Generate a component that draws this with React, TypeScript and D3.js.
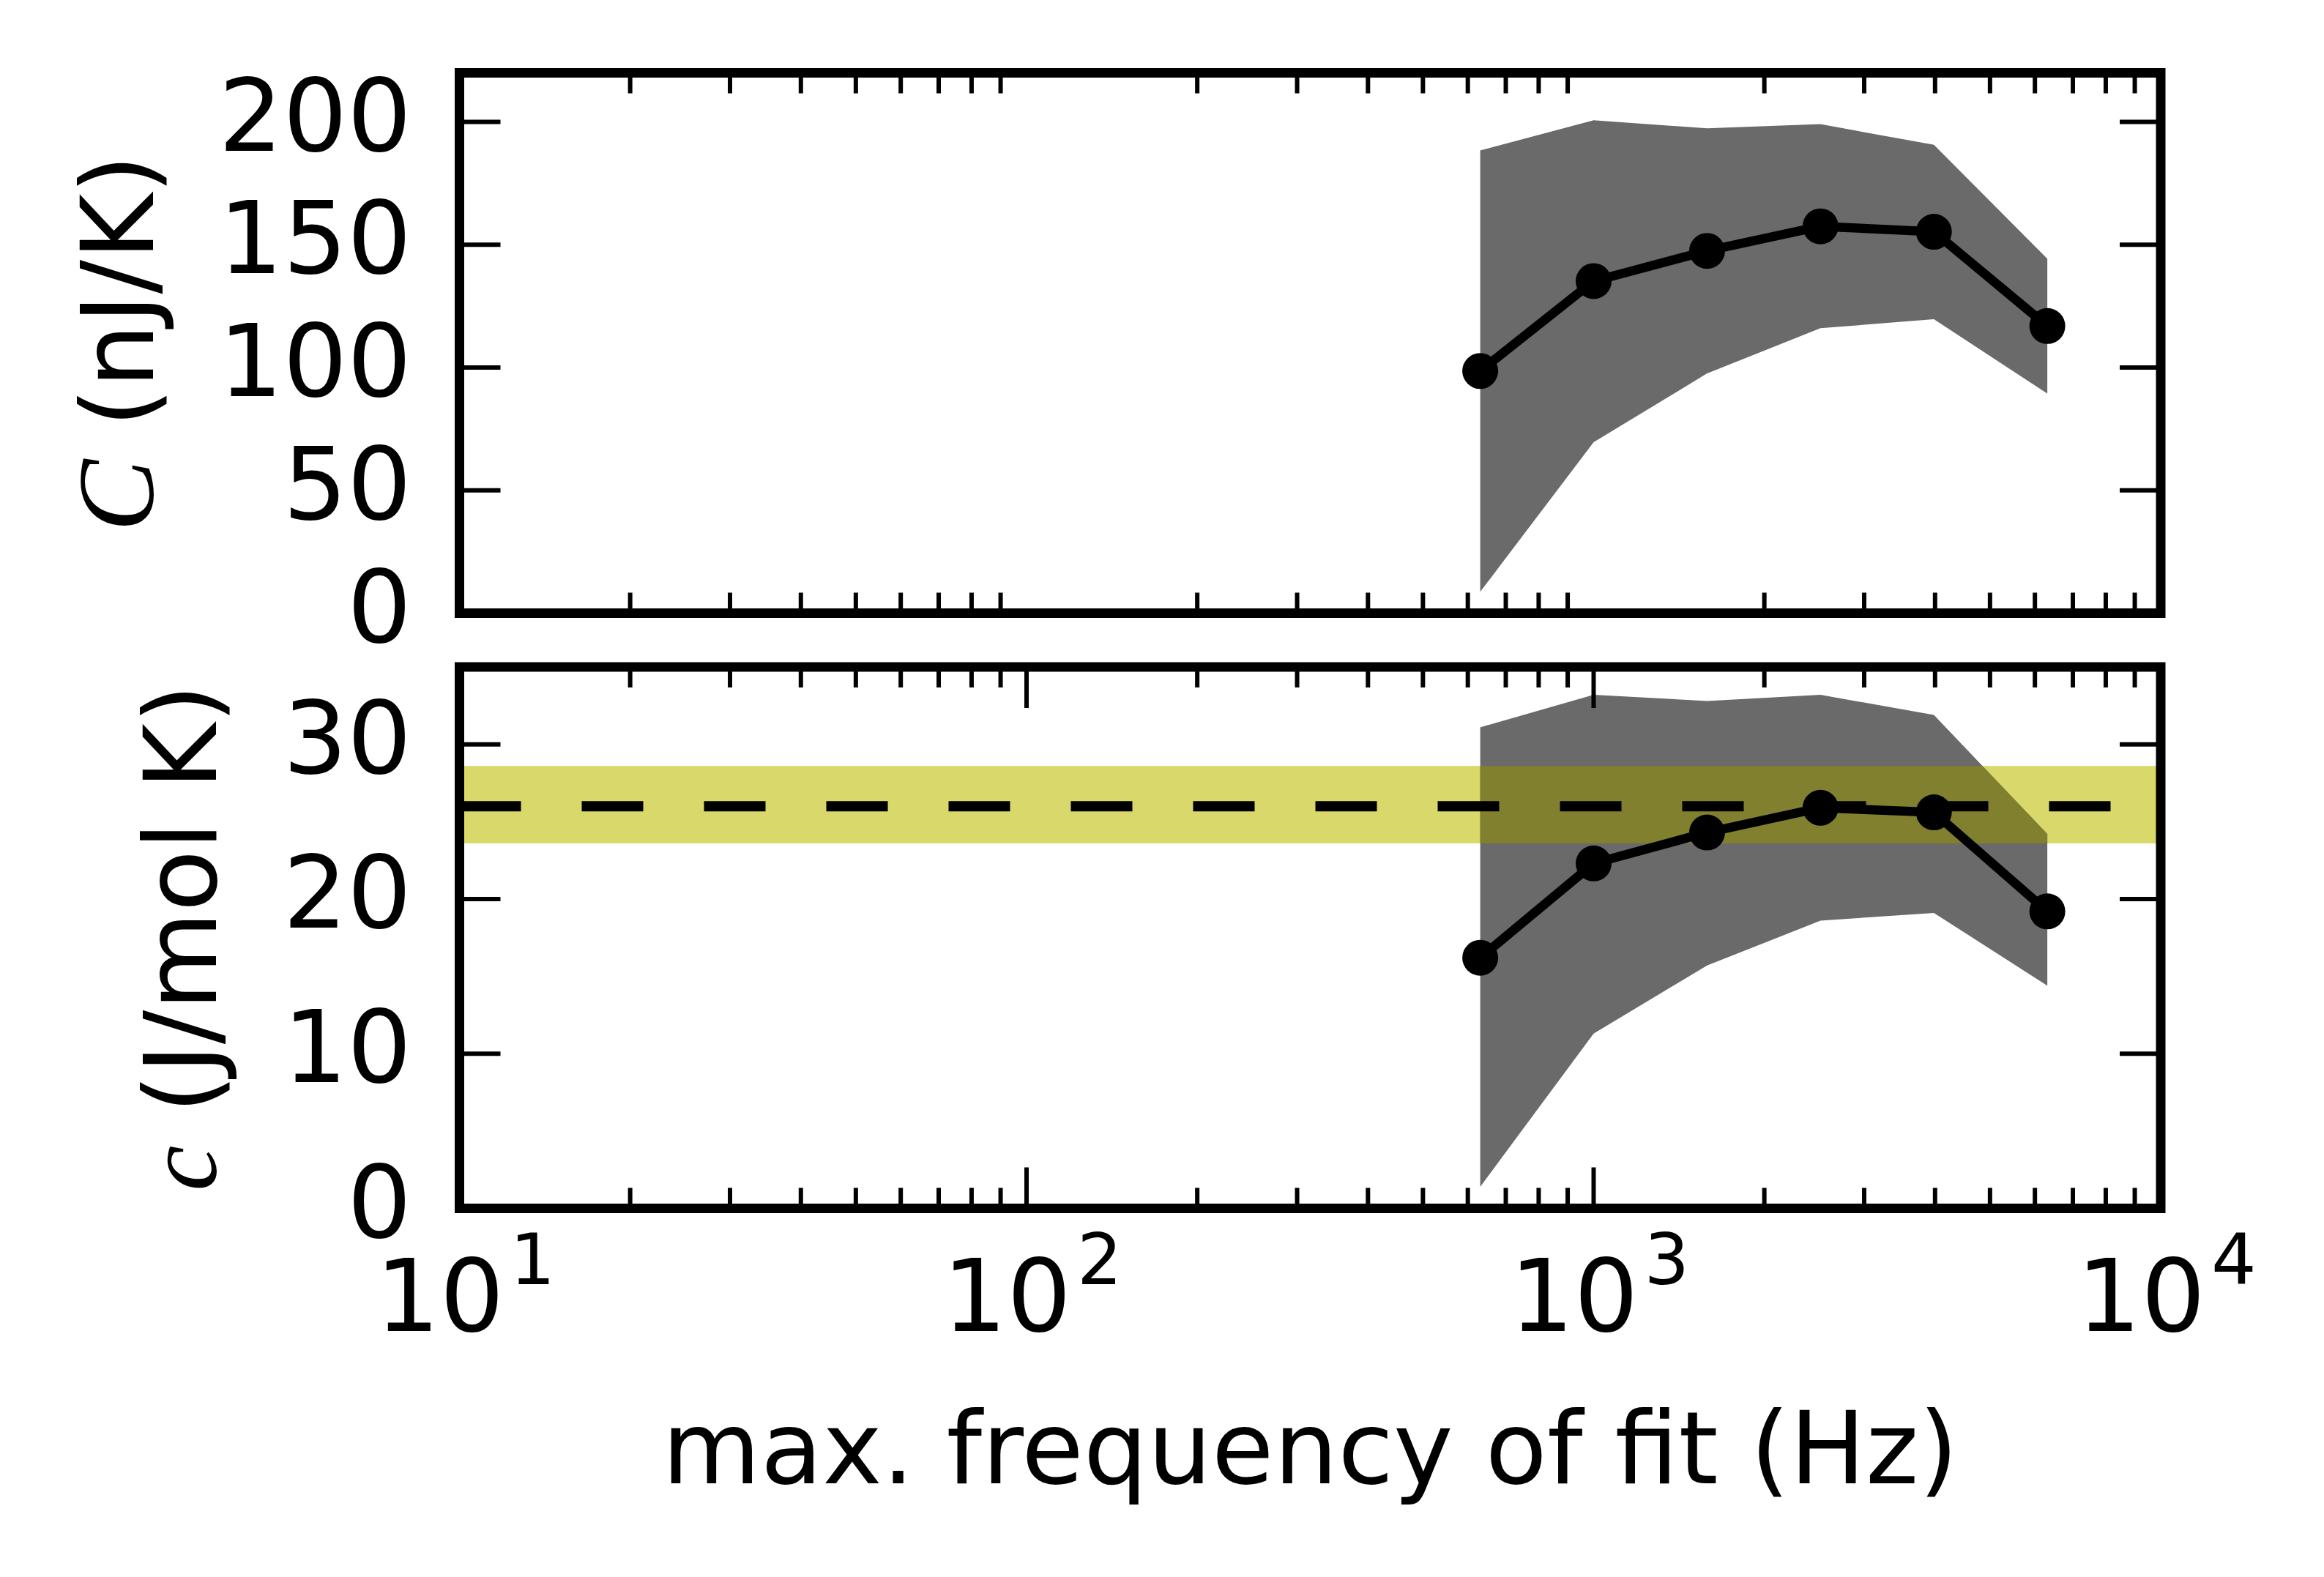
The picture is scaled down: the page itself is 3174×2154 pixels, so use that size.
import React from 'react';
import * as d3 from 'd3';

// max. frequency of fit (Hz)
const freq = [631, 1000, 1585, 2512, 3981, 6310];

// total heat capacity C (nJ/K) with its uncertainty band
const capTotal = [98.6, 135.2, 147.5, 157.5, 155.3, 116.9];
const capTotalHi = [188.4, 200.7, 197.4, 199.1, 190.7, 144.3];
const capTotalLo = [8.7, 69.6, 97.6, 116.0, 119.7, 89.4];

// molar heat capacity c (J/mol K) with its uncertainty band
const capMolar = [16.2, 22.3, 24.3, 25.9, 25.6, 19.2];
const capMolarHi = [31.1, 33.2, 32.8, 33.2, 31.9, 24.2];
const capMolarLo = [1.4, 11.3, 15.7, 18.6, 19.1, 14.4];

// reference value (dashed) and its range (yellow)
const refMolar = 26.0;
const refMolarRange = [23.6, 28.6];

const yTicksTop = [0, 50, 100, 150, 200];
const yTicksBottom = [0, 10, 20, 30];
const xMajor = [10, 100, 1000, 10000];

const W = 3174;
const H = 2154;
const left = 627.5;
const right = 2951;
const FONT = 'DejaVu Sans';
const FS = 138;

const x = d3.scaleLog().domain([10, 1e4]).range([left, right]);
const yTop = d3.scaleLinear().domain([0, 220]).range([837.5, 99.5]);
const yBot = d3.scaleLinear().domain([0, 35]).range([1650.5, 911]);

const xMinor = x.ticks().filter((t) => !xMajor.includes(Math.round(t)));

const GRAY = '#6a6a6a';
const YELLOW = '#d9d86b';
const OLIVE = '#81802e';

function Frame({ y, showMajorX, yTicks }: { y: d3.ScaleLinear<number, number>; showMajorX: boolean; yTicks: number[] }) {
  const [y0, y1] = y.range();
  const major = 56;
  const minor = 28;
  return (
    <g stroke="#000" strokeWidth={6}>
      {yTicks.map((t) => (
        <g key={'y' + t}>
          <line x1={left} x2={left + major} y1={y(t)} y2={y(t)} />
          <line x1={right} x2={right - major} y1={y(t)} y2={y(t)} />
        </g>
      ))}
      {xMinor.map((t) => (
        <g key={'m' + t}>
          <line x1={x(t)} x2={x(t)} y1={y0} y2={y0 - minor} />
          <line x1={x(t)} x2={x(t)} y1={y1} y2={y1 + minor} />
        </g>
      ))}
      {showMajorX &&
        xMajor.map((t) => (
          <g key={'M' + t}>
            <line x1={x(t)} x2={x(t)} y1={y0} y2={y0 - major} />
            <line x1={x(t)} x2={x(t)} y1={y1} y2={y1 + major} />
          </g>
        ))}
      <rect x={left} y={y1} width={right - left} height={y0 - y1} fill="none" strokeWidth={13} />
    </g>
  );
}

function Band({ y, hi, lo, clipId }: { y: d3.ScaleLinear<number, number>; hi: number[]; lo: number[]; clipId?: string }) {
  const area = d3
    .area<number>()
    .x((f) => x(f))
    .y0((_, i) => y(lo[i]))
    .y1((_, i) => y(hi[i]));
  const d = area(freq) || '';
  return (
    <g>
      {clipId && (
        <defs>
          <clipPath id={clipId}>
            <path d={d} />
          </clipPath>
        </defs>
      )}
      <path d={d} fill={GRAY} />
    </g>
  );
}

function DataLine({ y, mid }: { y: d3.ScaleLinear<number, number>; mid: number[] }) {
  const line = d3
    .line<number>()
    .x((_, i) => x(freq[i]))
    .y((d) => y(d));
  return (
    <g>
      <path d={line(mid) || ''} fill="none" stroke="#000" strokeWidth={12.5} strokeLinejoin="round" />
      {mid.map((v, i) => (
        <circle key={i} cx={x(freq[i])} cy={y(v)} r={24.5} fill="#000" />
      ))}
    </g>
  );
}

export default function App() {
  const supers = ['1', '2', '3', '4'];
  const bandTop = yBot(refMolarRange[1]);
  const bandH = yBot(refMolarRange[0]) - bandTop;
  return (
    <svg
      width={W}
      height={H}
      viewBox={`0 0 ${W} ${H}`}
      style={{ position: 'absolute', left: 0, top: 0, background: '#fff' }}
      fontFamily={FONT}
      fontSize={FS}
    >
      <rect width={W} height={H} fill="#fff" />

      {/* top panel */}
      <Band y={yTop} hi={capTotalHi} lo={capTotalLo} />
      <DataLine y={yTop} mid={capTotal} />
      <Frame y={yTop} showMajorX={false} yTicks={yTicksTop} />
      {yTicksTop.map((t) => (
        <text key={t} x={562} y={yTop(t) + 39} textAnchor="end">
          {t}
        </text>
      ))}
      <text transform={`translate(209,468.5) rotate(-90)`} textAnchor="middle">
        <tspan fontFamily="Liberation Serif" fontStyle="italic" fontSize={148}>C</tspan>
        {' (nJ/K)'}
      </text>

      {/* bottom panel */}
      <rect x={left} width={right - left} y={bandTop} height={bandH} fill={YELLOW} />
      <Band y={yBot} hi={capMolarHi} lo={capMolarLo} clipId="bandClip" />
      <rect x={left} width={right - left} y={bandTop} height={bandH} fill={OLIVE} clipPath="url(#bandClip)" />
      <line
        x1={left}
        x2={right}
        y1={yBot(refMolar)}
        y2={yBot(refMolar)}
        stroke="#000"
        strokeWidth={14}
        strokeDasharray="84 83"
      />
      <DataLine y={yBot} mid={capMolar} />
      <Frame y={yBot} showMajorX={true} yTicks={yTicksBottom} />
      {yTicksBottom.map((t) => (
        <text key={t} x={562} y={yBot(t) + 39} textAnchor="end">
          {t}
        </text>
      ))}
      <text transform={`translate(295,1280.5) rotate(-90)`} textAnchor="middle">
        <tspan fontFamily="Liberation Serif" fontStyle="italic" fontSize={140}>c</tspan>
        {' (J/mol K)'}
      </text>

      {/* x tick labels */}
      {xMajor.map((t, i) => (
        <text key={t} x={x(t) + 8} y={1818} textAnchor="middle">
          10
          <tspan dy={-64} dx={8} fontSize={97}>
            {supers[i]}
          </tspan>
        </text>
      ))}
      <text x={(left + right) / 2} y={2026} textAnchor="middle">
        max. frequency of fit (Hz)
      </text>
    </svg>
  );
}
